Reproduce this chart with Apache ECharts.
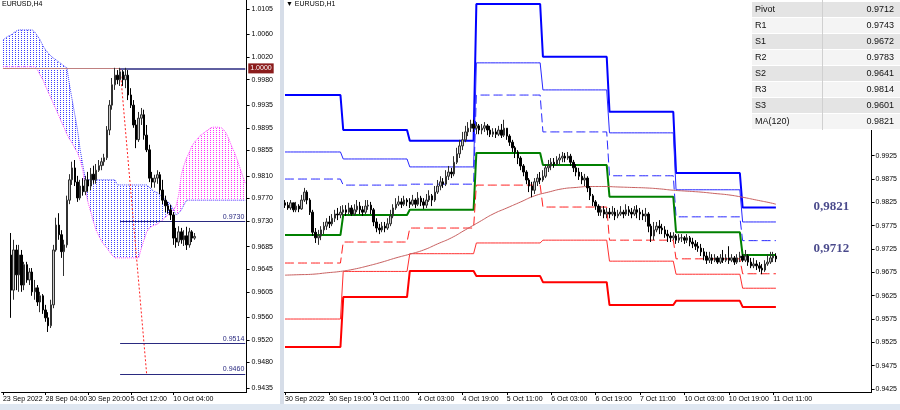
<!DOCTYPE html>
<html><head><meta charset="utf-8">
<script src="https://cdn.jsdelivr.net/npm/echarts@6/dist/echarts.min.js"></script>
<style>html,body{margin:0;padding:0;background:#fff}#c{width:900px;height:410px}</style>
</head><body><div id="c"></div>
<script>
// ---------------- DATA ----------------
const h4TickLabels = ['23 Sep 2022','28 Sep 04:00','30 Sep 20:00','5 Oct 12:00','10 Oct 04:00'];
const h1TickLabels = ['30 Sep 2022','30 Sep 19:00','3 Oct 11:00','4 Oct 03:00','4 Oct 19:00','5 Oct 11:00','6 Oct 03:00','6 Oct 19:00','7 Oct 11:00','10 Oct 03:00','10 Oct 19:00','11 Oct 11:00'];
const barsPerTick = 16;
const h4BarCount = 92;
const h1BarCount = 212;
const h4YLabels = [1.0105,1.0060,1.0020,0.9980,0.9935,0.9895,0.9855,0.9810,0.9770,0.9730,0.9685,0.9645,0.9605,0.9560,0.9520,0.9480,0.9435];
const h1YLabels = [0.9425,0.9475,0.9525,0.9575,0.9625,0.9675,0.9725,0.9775,0.9825,0.9875,0.9925];

// H4 candles, first bar index h4First
const h4First = 3;
const h4Open = [.9670,.9608,.9679,.9635,.9670,.9617,.9653,.9626,.9640,.9605,
.9612,.9587,.9598,.9573,.9559,.9545,.9582,.9679,.9723,.9706,
.9676,.9688,.9767,.9803,.9824,.9799,.9771,.9792,.9782,.9803,
.9792,.9813,.9803,.9820,.9828,.9835,.9842,.9891,.9935,.9971,
.9988,.9980,.9994,.9980,.9988,.9953,.9935,.9900,.9874,.9912,
.9918,.9882,.9856,.9806,.9799,.9806,.9812,.9785,.9767,.9757,
.9750,.9741,.9700,.9693,.9711,.9697,.9704,.9688,.9711,.9700];
const h4Close = [.9608,.9679,.9635,.9670,.9617,.9653,.9626,.9640,.9605,.9612,
.9587,.9598,.9573,.9559,.9545,.9582,.9679,.9723,.9706,.9676,
.9688,.9767,.9803,.9824,.9799,.9771,.9792,.9782,.9803,.9792,
.9813,.9803,.9820,.9828,.9835,.9842,.9891,.9935,.9971,.9988,
.9980,.9994,.9980,.9988,.9953,.9935,.9900,.9874,.9912,.9918,
.9882,.9856,.9806,.9799,.9806,.9812,.9785,.9767,.9757,.9750,
.9741,.9700,.9693,.9711,.9697,.9704,.9688,.9711,.9700,.9703];
const h4Low = [.9559,.9591,.9608,.9605,.9605,.9608,.9621,.9617,.9598,.9591,
.9580,.9569,.9566,.9552,.9534,.9541,.9576,.9676,.9697,.9665,
.9633,.9683,.9760,.9794,.9792,.9764,.9767,.9775,.9776,.9782,
.9785,.9796,.9796,.9817,.9820,.9828,.9838,.9882,.9927,.9962,
.9972,.9969,.9969,.9965,.9944,.9930,.9895,.9859,.9870,.9900,
.9874,.9852,.9799,.9789,.9789,.9796,.9778,.9760,.9746,.9743,
.9732,.9688,.9683,.9686,.9690,.9686,.9679,.9683,.9693,.9697];
const h4High = [.9709,.9697,.9688,.9688,.9679,.9658,.9658,.9647,.9647,.9626,
.9617,.9605,.9601,.9582,.9569,.9591,.9688,.9736,.9744,.9714,
.9697,.9775,.9813,.9835,.9838,.9810,.9803,.9806,.9810,.9817,
.9824,.9828,.9831,.9838,.9842,.9849,.9898,.9944,.9983,1.0001,
.9997,1.0001,.9997,1.0001,.9997,.9965,.9944,.9909,.9923,.9930,
.9927,.9900,.9865,.9817,.9812,.9820,.9817,.9803,.9775,.9764,
.9759,.9746,.9718,.9721,.9718,.9714,.9720,.9718,.9714,.9709];

// Ichimoku senkou spans (H4, bar 0..91)
const spanA = [1.0050,1.0054,1.0057,1.0059,1.0063,1.0066,1.0068,1.0068,1.0068,1.0068,1.0068,1.0068,
1.0064,1.0057,1.0050,1.0040,1.0033,1.0027,1.0022,1.0018,1.0015,1.0011,1.0008,1.0004,1.0001,
.9971,.9944,.9918,.9891,.9856,.9829,.9803,
.9803,.9803,.9803,.9803,.9803,.9803,.9803,.9803,.9803,.9803,.9803,
.9794,.9794,.9794,.9794,.9794,.9794,.9794,.9794,.9794,.9794,.9794,.9794,
.9790,.9785,.9782,.9780,.9776,.9773,.9767,.9764,.9759,.9750,.9741,.9744,.9750,.9759,.9767,
.9767,.9767,.9767,.9767,.9767,.9767,.9767,.9767,.9767,.9767,.9767,.9767,.9767,.9767,.9767,.9767,.9767,.9767,.9767,.9767,.9767,.9767];
const spanB = [1.0003,1.0003,1.0003,1.0003,1.0003,1.0003,1.0003,1.0003,1.0003,1.0003,1.0003,1.0003,1.0003,
.9997,.9988,.9980,.9969,.9958,.9948,.9937,.9927,.9916,.9905,.9895,.9884,.9875,.9868,.9859,.9851,.9838,.9820,.9785,.9762,.9746,.9729,.9714,.9704,.9695,.9688,.9683,.9676,.9670,
.9665,.9665,.9665,.9665,.9665,.9665,.9665,.9665,.9665,.9665,
.9683,.9697,.9711,.9718,.9721,.9723,.9725,.9729,.9732,.9737,.9741,.9746,.9750,.9757,.9776,.9812,.9829,.9842,.9852,.9863,.9870,.9875,.9881,.9884,.9888,.9891,.9895,.9896,.9896,.9896,.9895,.9891,.9884,.9873,.9861,.9851,.9838,.9824,.9810,.9797];

const levelStartBar = 44;
const levelPrices = [1.0000, 0.9730, 0.9514, 0.9460];
const trendBars = [44, 54];
const trendPrices = [1.0000, 0.9458];
const lastPrice = 0.9703;

// H1 candles
const h1Open = [.9824,.9819,.9813,.9824,.9809,.9817,.9811,.9830,.9847,.9830,
.9804,.9761,.9749,.9753,.9766,.9774,.9783,.9779,.9791,.9800,
.9798,.9804,.9809,.9804,.9813,.9800,.9809,.9817,.9809,.9804,
.9817,.9819,.9809,.9783,.9770,.9766,.9774,.9770,.9779,.9796,
.9813,.9821,.9826,.9821,.9830,.9826,.9821,.9830,.9821,.9834,
.9826,.9819,.9830,.9839,.9830,.9847,.9860,.9869,.9864,.9881,
.9890,.9886,.9911,.9929,.9946,.9959,.9976,.9984,.9993,.9984,
.9989,.9980,.9984,.9989,.9980,.9971,.9976,.9971,.9980,.9969,
.9984,.9967,.9954,.9942,.9933,.9920,.9903,.9890,.9873,.9860,
.9851,.9869,.9877,.9873,.9881,.9899,.9903,.9911,.9907,.9916,
.9920,.9924,.9920,.9924,.9911,.9899,.9890,.9881,.9873,.9877,
.9856,.9839,.9826,.9817,.9804,.9809,.9800,.9804,.9800,.9804,
.9796,.9800,.9804,.9800,.9809,.9804,.9800,.9809,.9804,.9800,
.9796,.9800,.9774,.9753,.9766,.9774,.9770,.9766,.9757,.9753,
.9749,.9753,.9744,.9749,.9749,.9744,.9749,.9740,.9736,.9731,
.9727,.9719,.9710,.9701,.9706,.9701,.9706,.9697,.9706,.9701,
.9706,.9701,.9706,.9697,.9706,.9710,.9701,.9710,.9697,.9689,
.9693,.9689,.9684,.9680,.9693,.9697,.9706,.9710];
const h1Close = [.9819,.9813,.9824,.9809,.9817,.9811,.9830,.9847,.9830,.9804,
.9761,.9749,.9753,.9766,.9774,.9783,.9779,.9791,.9800,.9798,
.9804,.9809,.9804,.9813,.9800,.9809,.9817,.9809,.9804,.9817,
.9819,.9809,.9783,.9770,.9766,.9774,.9770,.9779,.9796,.9813,
.9821,.9826,.9821,.9830,.9826,.9821,.9830,.9821,.9834,.9826,
.9819,.9830,.9839,.9830,.9847,.9860,.9869,.9864,.9881,.9890,
.9886,.9911,.9929,.9946,.9959,.9976,.9984,.9993,.9984,.9989,
.9980,.9984,.9989,.9980,.9971,.9976,.9971,.9980,.9969,.9984,
.9967,.9954,.9942,.9933,.9920,.9903,.9890,.9873,.9860,.9851,
.9869,.9877,.9873,.9881,.9899,.9903,.9911,.9907,.9916,.9920,
.9924,.9920,.9924,.9911,.9899,.9890,.9881,.9873,.9877,.9856,
.9839,.9826,.9817,.9804,.9809,.9800,.9804,.9800,.9804,.9796,
.9800,.9804,.9800,.9809,.9804,.9800,.9809,.9804,.9800,.9796,
.9800,.9774,.9753,.9766,.9774,.9770,.9766,.9757,.9753,.9749,
.9753,.9744,.9749,.9749,.9744,.9749,.9740,.9736,.9731,.9727,
.9719,.9710,.9701,.9706,.9701,.9706,.9697,.9706,.9701,.9706,
.9701,.9706,.9697,.9706,.9710,.9701,.9710,.9697,.9689,.9693,
.9689,.9684,.9680,.9693,.9697,.9706,.9710,.9704];
const h1High = [.9830,.9826,.9830,.9824,.9826,.9821,.9841,.9856,.9851,.9834,
.9809,.9770,.9766,.9774,.9783,.9791,.9796,.9800,.9809,.9813,
.9817,.9819,.9819,.9824,.9819,.9821,.9830,.9826,.9817,.9830,
.9830,.9826,.9813,.9791,.9779,.9783,.9783,.9791,.9809,.9821,
.9834,.9839,.9834,.9839,.9834,.9834,.9841,.9834,.9847,.9839,
.9834,.9843,.9851,.9843,.9860,.9873,.9881,.9877,.9894,.9903,
.9899,.9924,.9942,.9959,.9976,.9989,.9997,1.0002,1.0002,.9997,
.9993,.9993,.9997,.9993,.9989,.9984,.9984,.9989,.9993,1.0002,
.9984,.9971,.9959,.9946,.9937,.9924,.9907,.9894,.9877,.9869,
.9877,.9886,.9890,.9894,.9907,.9916,.9920,.9920,.9924,.9929,
.9933,.9931,.9933,.9929,.9916,.9907,.9899,.9890,.9886,.9881,
.9860,.9843,.9830,.9821,.9817,.9817,.9813,.9813,.9817,.9813,
.9809,.9817,.9809,.9821,.9817,.9813,.9817,.9819,.9813,.9809,
.9813,.9804,.9779,.9783,.9783,.9787,.9779,.9774,.9766,.9761,
.9761,.9757,.9757,.9757,.9753,.9757,.9753,.9749,.9744,.9740,
.9736,.9727,.9719,.9719,.9714,.9714,.9710,.9714,.9723,.9714,
.9731,.9714,.9710,.9714,.9719,.9714,.9723,.9714,.9706,.9706,
.9701,.9697,.9693,.9701,.9714,.9719,.9719,.9716];
const h1Low = [.9813,.9809,.9809,.9804,.9804,.9804,.9809,.9826,.9821,.9798,
.9753,.9738,.9734,.9744,.9757,.9766,.9770,.9774,.9783,.9787,
.9791,.9796,.9796,.9800,.9796,.9796,.9804,.9800,.9796,.9800,
.9809,.9800,.9774,.9761,.9757,.9761,.9761,.9766,.9774,.9791,
.9809,.9817,.9813,.9817,.9817,.9813,.9817,.9813,.9817,.9817,
.9811,.9813,.9826,.9817,.9826,.9843,.9851,.9856,.9860,.9873,
.9877,.9881,.9907,.9920,.9937,.9954,.9967,.9976,.9976,.9971,
.9971,.9971,.9976,.9969,.9965,.9965,.9963,.9967,.9963,.9965,
.9959,.9946,.9933,.9920,.9907,.9894,.9881,.9864,.9847,.9836,
.9843,.9860,.9864,.9869,.9877,.9890,.9894,.9899,.9903,.9907,
.9911,.9911,.9916,.9903,.9890,.9881,.9873,.9864,.9860,.9847,
.9830,.9817,.9809,.9796,.9796,.9791,.9791,.9791,.9796,.9787,
.9791,.9796,.9791,.9796,.9796,.9791,.9796,.9791,.9787,.9787,
.9783,.9761,.9740,.9744,.9761,.9757,.9757,.9749,.9740,.9740,
.9744,.9736,.9738,.9740,.9736,.9738,.9731,.9727,.9723,.9719,
.9710,.9701,.9693,.9695,.9693,.9697,.9693,.9693,.9695,.9697,
.9693,.9697,.9691,.9693,.9697,.9697,.9697,.9689,.9684,.9684,
.9680,.9676,.9671,.9676,.9689,.9693,.9697,.9697];

// Daily pivot levels (one value per day)
const dayStart = [0,21,45,69,93,117,141,165];
const pivotR3 = [1.0055,0.9980,0.9957,1.0250,1.0137,1.0019,0.9888,0.9814];
const pivotR2 = [0.9933,0.9918,0.9901,1.0124,1.0066,0.9974,0.9852,0.9783];
const pivotR1 = [0.9875,0.9862,0.9864,1.0055,0.9976,0.9882,0.9794,0.9743];
const pivotPP = [0.9755,0.9798,0.9809,0.9931,0.9905,0.9837,0.9761,0.9712];
const pivotS1 = [0.9695,0.9740,0.9770,0.9862,0.9815,0.9744,0.9704,0.9672];
const pivotS2 = [0.9575,0.9677,0.9715,0.9738,0.9744,0.9699,0.9671,0.9641];
const pivotS3 = [0.9515,0.9622,0.9678,0.9667,0.9654,0.9605,0.9614,0.9601];

// MA(120) readings
const maBars = [0,5,10,15,20,25,30,35,40,45,50,55,60,65,70,75,80,85,90,95,100,105,110,115,120,125,130,135,140,145,150,155,160,165,170,175,177];
const maValues = [0.9669,0.9670,0.9671,0.9674,0.9677,0.9682,0.9689,0.9697,0.9706,0.9714,0.9723,0.9736,0.9749,0.9766,0.9783,0.9800,0.9813,0.9826,0.9839,0.9847,0.9854,0.9857,0.9859,0.9859,0.9858,0.9857,0.9856,0.9854,0.9851,0.9849,0.9847,0.9844,0.9841,0.9836,0.9830,0.9824,0.9821];

const noteBar = 197;
const noteTexts = ['0,9821','0,9712'];
const notePrices = [0.9815, 0.9725];

const tableLabels = ['Pivot','R1','S1','R2','S2','R3','S3','MA(120)'];
const tableValues = ['0.9712','0.9743','0.9672','0.9783','0.9641','0.9814','0.9601','0.9821'];

// ---------------- BUILD ----------------
const FONT = "'Liberation Sans',Arial,sans-serif";
const h4Cats = Array.from({length: h4BarCount}, (_, i) => String(i));
const h1Cats = Array.from({length: h1BarCount}, (_, i) => String(i));

const h4Candles = h4Cats.map((_, i) => {
  const k = i - h4First;
  if (k < 0 || k >= h4Open.length) return '-';
  return [h4Open[k], h4Close[k], h4Low[k], h4High[k]];
});
const h1Candles = h1Cats.map((_, i) => i < h1Open.length ? [h1Open[i], h1Close[i], h1Low[i], h1High[i]] : '-');

function expandDaily(levels) {
  return h1Cats.map((_, i) => {
    if (i >= h1Close.length) return null;
    let d = 0;
    while (d + 1 < dayStart.length && i >= dayStart[d + 1]) d++;
    return levels[d];
  });
}
const maSeries = h1Cats.map(() => null);
maBars.forEach((b, j) => { maSeries[b] = maValues[j]; });

const cloudBase = spanA.map((a, i) => Math.min(a, spanB[i]));
const cloudBlue = spanA.map((a, i) => Math.max(a - spanB[i], 0));
const cloudPink = spanA.map((a, i) => Math.max(spanB[i] - a, 0));

const trendSeries = h4Cats.map(() => null);
trendBars.forEach((b, j) => { trendSeries[b] = trendPrices[j]; });

function dots(color) {
  const c = document.createElement('canvas');
  c.width = 3; c.height = 2;
  const g = c.getContext('2d');
  g.fillStyle = color; g.fillRect(0, 0, 1, 1);
  return {image: c, repeat: 'repeat'};
}

const showH4 = (i) => i % barsPerTick === 0 && i / barsPerTick < h4TickLabels.length;
const showH1 = (i) => i % barsPerTick === 0 && i / barsPerTick < h1TickLabels.length;

const axisLbl = {color: '#000', fontSize: 7, fontFamily: FONT};

function xAxisCfg(gi, cats, show, labels) {
  return {
    type: 'category', gridIndex: gi, data: cats, boundaryGap: true,
    axisLine: {lineStyle: {color: '#000', width: 1}},
    axisTick: {show: true, alignWithLabel: true, length: 3, interval: (i) => show(i), lineStyle: {color: '#000'}},
    axisLabel: Object.assign({interval: (i) => show(i), align: 'left', margin: 4, showMinLabel: true, hideOverlap: false,
      formatter: (v, i) => show(i) ? labels[i / barsPerTick] : ''}, axisLbl),
    splitLine: {show: false}
  };
}
function yAxisCfg(gi, min, max, ticks, margin) {
  return {
    type: 'value', gridIndex: gi, position: 'right', min: min, max: max, scale: true,
    axisLine: {show: true, lineStyle: {color: '#000', width: 1}},
    axisTick: {show: true, length: 3, customValues: ticks, lineStyle: {color: '#000'}},
    axisLabel: Object.assign({customValues: ticks, margin: margin, formatter: (v) => v.toFixed(4)}, axisLbl),
    splitLine: {show: false}
  };
}

const candleStyle = {color: '#c8c8c8', color0: '#000000', borderColor: '#303030', borderColor0: '#000000', borderWidth: 1};
const lineBase = {type: 'line', symbol: 'none', silent: true, animation: false};

function priceBox(price, bg) {
  return {symbol: 'none', silent: true, animation: false,
    data: [{yAxis: price, lineStyle: {opacity: 0},
      label: {show: true, position: 'end', distance: 3, formatter: price.toFixed(4), color: '#fff',
        backgroundColor: bg, padding: [2, 2, 1, 2], fontSize: 7, fontFamily: FONT}}]};
}

const navy = '#2a2a80';
const levelMarks = levelPrices.map((p, j) => [
  {coord: [levelStartBar, p], lineStyle: {color: navy, width: j === 0 ? 1.5 : 1, type: 'solid'},
   label: j === 0 ? {show: true, position: 'end', distance: 3, formatter: p.toFixed(4), color: '#fff',
     backgroundColor: '#8b1c1c', padding: [2, 2, 1, 2], fontSize: 7, fontFamily: FONT}
   : {show: true, position: 'insideEndTop', distance: 1, formatter: p.toFixed(4), color: navy, fontSize: 7, fontFamily: FONT}},
  {coord: [h4BarCount - 1, p]}
]);
levelMarks.push([{coord: [0, levelPrices[0]], lineStyle: {color: '#c08080', width: 1, type: 'solid'}, label: {show: false}},
                 {coord: [levelStartBar, levelPrices[0]]}]);

const pivotDefs = [
  [pivotR3, '#0000ff', 2, 'solid'],
  [pivotR2, '#2828ff', 1, 'solid'],
  [pivotR1, '#2828ff', 1, [9, 4]],
  [pivotPP, '#008000', 2, 'solid'],
  [pivotS1, '#ff2020', 1, [9, 4]],
  [pivotS2, '#ff3030', 1, 'solid'],
  [pivotS3, '#ff0000', 2, 'solid']
];

const series = [
  // ---- left panel ----
  Object.assign({}, lineBase, {xAxisIndex: 0, yAxisIndex: 0, data: cloudBase, stack: 'cloud', lineStyle: {opacity: 0}, z: 1}),
  Object.assign({}, lineBase, {xAxisIndex: 0, yAxisIndex: 0, data: cloudBlue, stack: 'cloud', lineStyle: {opacity: 0}, areaStyle: {color: dots('#3c3cff'), opacity: 1}, z: 1}),
  Object.assign({}, lineBase, {xAxisIndex: 0, yAxisIndex: 0, data: cloudPink, stack: 'cloud', lineStyle: {opacity: 0}, areaStyle: {color: dots('#ff30ff'), opacity: 1}, z: 1}),
  Object.assign({}, lineBase, {xAxisIndex: 0, yAxisIndex: 0, data: spanA, lineStyle: {color: '#4040ff', width: 1, type: 'dotted'}, z: 2}),
  Object.assign({}, lineBase, {xAxisIndex: 0, yAxisIndex: 0, data: spanB, lineStyle: {color: '#ff40ff', width: 1, type: 'dotted'}, z: 2}),
  Object.assign({}, lineBase, {xAxisIndex: 0, yAxisIndex: 0, data: h4Cats.map(() => null), z: 3,
    markLine: {symbol: 'none', silent: true, animation: false, data: levelMarks}}),
  Object.assign({}, lineBase, {xAxisIndex: 0, yAxisIndex: 0, data: trendSeries, connectNulls: true, lineStyle: {color: '#ff2020', width: 1, type: [2, 2]}, z: 4}),
  {type: 'candlestick', xAxisIndex: 0, yAxisIndex: 0, data: h4Candles, barWidth: 2, itemStyle: candleStyle, z: 5, animation: false, silent: true,
    markLine: priceBox(lastPrice, '#000')},
  // ---- right panel ----
  ...pivotDefs.map(([lv, col, w, t]) => Object.assign({}, lineBase, {xAxisIndex: 1, yAxisIndex: 1, data: expandDaily(lv), lineStyle: {color: col, width: w, type: t}, z: 2})),
  Object.assign({}, lineBase, {xAxisIndex: 1, yAxisIndex: 1, data: maSeries, connectNulls: true, smooth: true, lineStyle: {color: '#c86060', width: 1}, z: 2}),
  {type: 'candlestick', xAxisIndex: 1, yAxisIndex: 1, data: h1Candles, barWidth: 2, itemStyle: candleStyle, z: 5, animation: false, silent: true,
    markLine: priceBox(lastPrice, '#000')},
  {type: 'scatter', xAxisIndex: 1, yAxisIndex: 1, symbolSize: 1, itemStyle: {color: 'rgba(0,0,0,0)'}, silent: true, animation: false, z: 6,
    data: notePrices.map((p, j) => ({value: [noteBar, p], label: {show: true, position: 'inside', formatter: noteTexts[j],
      color: '#1c1c6e', fontSize: 13, fontWeight: 'bold', fontFamily: "'Liberation Serif','DejaVu Serif',serif"}}))}
];

// table graphic
const tblX = 752, tblW = 148, tblTop = 2, rowH = 16, colX = 822;
const graphics = [
  {type: 'rect', shape: {x: 280, y: 0, width: 4, height: 404}, style: {fill: '#d6dde8'}, z: 100},
  {type: 'rect', shape: {x: 0, y: 404, width: 900, height: 6}, style: {fill: '#dfe7f1'}, z: 100},
  {type: 'rect', shape: {x: tblX, y: 0, width: tblW, height: tblTop + rowH * tableLabels.length}, style: {fill: '#ffffff'}, z: 100}
];
tableLabels.forEach((lab, i) => {
  const y = tblTop + i * rowH;
  graphics.push({type: 'rect', shape: {x: tblX, y: y, width: tblW, height: rowH - 1}, style: {fill: i % 2 === 0 ? '#e4e4e4' : '#f4f4f4'}, z: 101});
  graphics.push({type: 'text', x: tblX + 3, y: y + rowH / 2, style: {text: lab, fill: '#111', font: "9px 'Liberation Sans', Arial", textVerticalAlign: 'middle', verticalAlign: 'middle'}, z: 102});
  graphics.push({type: 'text', x: tblX + tblW - 6, y: y + rowH / 2, style: {text: tableValues[i], fill: '#111', font: "9px 'Liberation Sans', Arial", textAlign: 'right', align: 'right', textVerticalAlign: 'middle', verticalAlign: 'middle'}, z: 102});
});
graphics.push({type: 'rect', shape: {x: colX, y: 0, width: 1, height: tblTop + rowH * tableLabels.length}, style: {fill: '#d0d0d0'}, z: 103});

const option = {
  animation: false,
  backgroundColor: '#ffffff',
  title: [
    {text: 'EURUSD,H4', left: 2, top: 1, padding: 0, textStyle: {fontSize: 7, fontWeight: 'normal', color: '#000', fontFamily: FONT}},
    {text: '\u25BC EURUSD,H1', left: 286, top: 1, padding: 0, textStyle: {fontSize: 7, fontWeight: 'normal', color: '#000', fontFamily: FONT}}
  ],
  grid: [
    {left: -10.1, top: 0, width: 256.7, height: 392},
    {left: 283.6, top: 0, width: 590.2, height: 392}
  ],
  xAxis: [xAxisCfg(0, h4Cats, showH4, h4TickLabels), xAxisCfg(1, h1Cats, showH1, h1TickLabels)],
  yAxis: [yAxisCfg(0, 0.94279, 1.01209, h4YLabels, 5), yAxisCfg(1, 0.94186, 1.02587, h1YLabels, 4)],
  series: series,
  graphic: graphics
};
const chart = echarts.init(document.getElementById('c'), null, {renderer: 'canvas'});
chart.setOption(option);
</script></body></html>
